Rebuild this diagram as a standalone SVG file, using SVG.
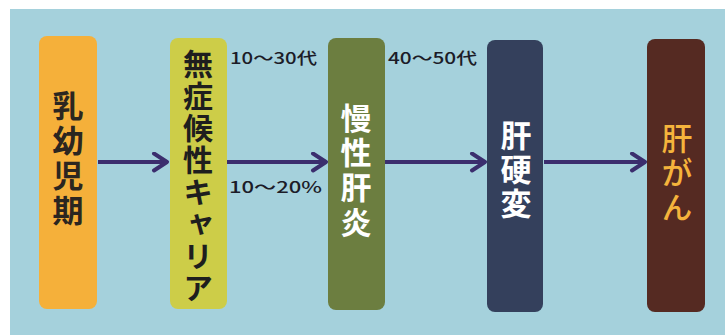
<svg xmlns="http://www.w3.org/2000/svg" width="725" height="335" viewBox="0 0 725 335">
<defs>
<style>
.ch{font-family:"Noto Sans CJK JP","Noto Sans CJK SC",sans-serif;font-size:31px;font-weight:700;writing-mode:vertical-rl;text-orientation:upright}
.lb{font-family:"Noto Sans CJK JP","Noto Sans CJK SC",sans-serif;font-size:16px;font-weight:500;fill:#1c1c28}
.cn{stroke:#3b2e6e;stroke-width:4;fill:none}
</style>
<marker id="ah" markerUnits="userSpaceOnUse" markerWidth="20" markerHeight="24" refX="16" refY="10" orient="auto" viewBox="0 0 20 24">
<path d="M3,1.5 L16,10 L3,18.5" fill="none" stroke="#3b2e6e" stroke-width="4" stroke-linecap="round" stroke-linejoin="round"/>
</marker>
</defs>
<rect x="0" y="0" width="725" height="335" fill="#ffffff"/>
<rect x="10" y="9" width="715" height="326" fill="#a5d1dc"/>
<g id="connectors">
<line class="cn" x1="98" y1="162" x2="167" y2="162" marker-end="url(#ah)"/>
<line class="cn" x1="227" y1="162" x2="326" y2="162" marker-end="url(#ah)"/>
<line class="cn" x1="385" y1="162" x2="485" y2="162" marker-end="url(#ah)"/>
<line class="cn" x1="544" y1="162" x2="645" y2="162" marker-end="url(#ah)"/>
</g>
<g id="labels">
<text class="lb" x="230" y="64" textLength="87" lengthAdjust="spacingAndGlyphs">10〜30代</text>
<text class="lb" x="229" y="193" textLength="93" lengthAdjust="spacingAndGlyphs">10〜20%</text>
<text class="lb" x="388" y="64" textLength="89" lengthAdjust="spacingAndGlyphs">40〜50代</text>
</g>
<g id="node1">
<rect x="39" y="36" width="58" height="273" rx="8" fill="#f5b03a"/>
<text class="ch" x="68" y="89.5" fill="#2b2620" style="letter-spacing:4px">乳幼児期</text>
</g>
<g id="node2">
<rect x="170" y="38" width="57" height="271" rx="8" fill="#cdcd48"/>
<text class="ch" x="198" y="49" fill="#1e1e1e" style="font-size:30px;letter-spacing:2px">無症候性キャリア</text>
</g>
<g id="node3">
<rect x="328" y="38" width="57" height="272" rx="8" fill="#6c7e40"/>
<text class="ch" x="356" y="102.5" fill="#ffffff" style="font-weight:600;letter-spacing:3.7px">慢性肝炎</text>
</g>
<g id="node4">
<rect x="487" y="40" width="56" height="272" rx="8" fill="#34405c"/>
<text class="ch" x="516" y="119.5" fill="#ffffff" style="font-weight:600;letter-spacing:3px">肝硬変</text>
</g>
<g id="node5">
<rect x="647" y="39" width="58" height="273" rx="8" fill="#552a22"/>
<text class="ch" x="677" y="122.5" fill="#f5b43c" style="font-weight:500;letter-spacing:3.5px">肝がん</text>
</g>
</svg>
